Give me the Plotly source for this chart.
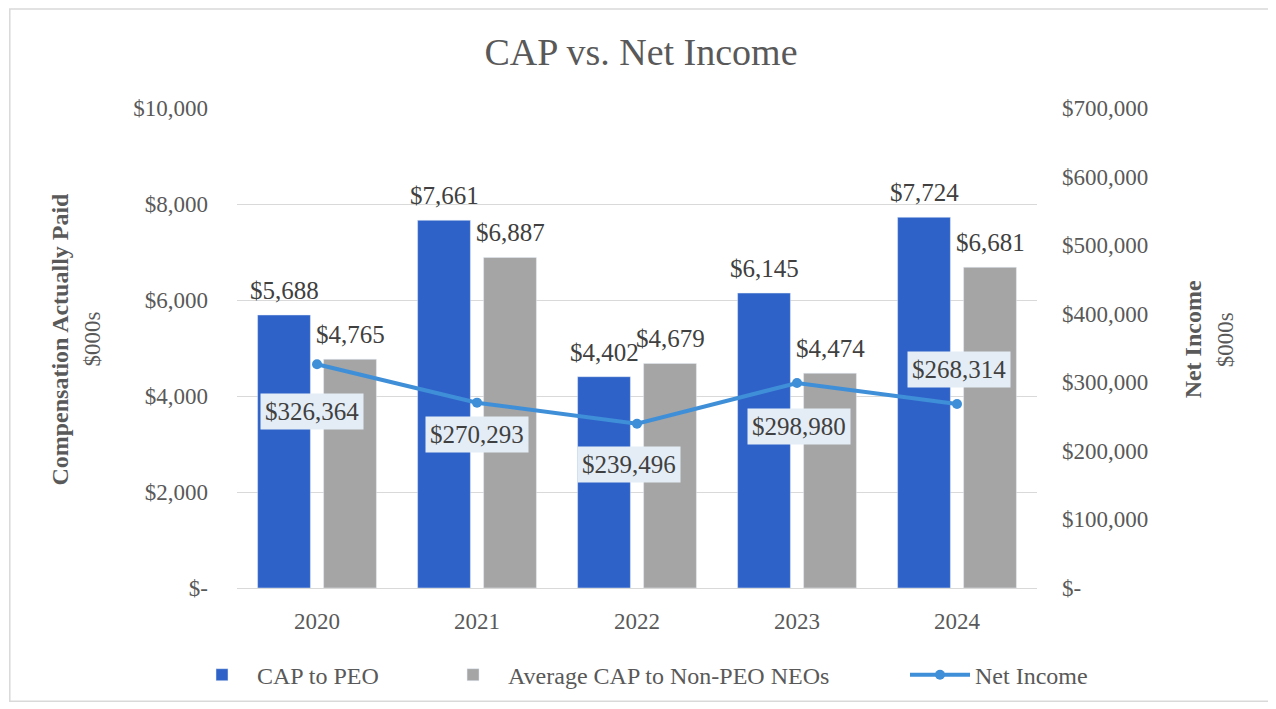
import plotly.graph_objects as go

years = ["2020", "2021", "2022", "2023", "2024"]
cap_peo = [5688, 7661, 4402, 6145, 7724]
cap_neo = [4765, 6887, 4679, 4474, 6681]
net_income = [326364, 270293, 239496, 298980, 268314]

left_tickvals = [0, 2000, 4000, 6000, 8000, 10000]
left_ticktext = ["$-", "$2,000", "$4,000", "$6,000", "$8,000", "$10,000"]
right_tickvals = [0, 100000, 200000, 300000, 400000, 500000, 600000, 700000]
right_ticktext = ["$-", "$100,000", "$200,000", "$300,000", "$400,000",
                  "$500,000", "$600,000", "$700,000"]

# label offsets (pixels) for net income callouts
ni_yshift = [-47, -32, -41, -44, 35]
ni_xshift = [-5, 0, -8, 2, 2]

SERIF = "Liberation Serif, Times New Roman, serif"
BLUE = "#2E62C8"
GRAY = "#A5A5A5"
LINE = "#3F8FD8"
TXT = "#404040"
TICK = "#595959"

W, H = 1268, 701

fig = go.Figure()
fig.add_trace(go.Bar(x=years, y=cap_peo, name="CAP to PEO", marker_color=BLUE,
                     yaxis="y", legend="legend"))
fig.add_trace(go.Bar(x=years, y=cap_neo, name="Average CAP to Non-PEO NEOs",
                     marker_color=GRAY, yaxis="y", legend="legend2"))
fig.add_trace(go.Scatter(x=years, y=net_income, name="Net Income", yaxis="y2",
                         mode="lines+markers", legend="legend3",
                         line=dict(color=LINE, width=4),
                         marker=dict(color=LINE, size=10)))

annotations = []
for i in range(len(years)):
    # category index i on the category axis
    annotations.append(dict(x=i, y=cap_peo[i], xref="x", yref="y",
                            text="${:,}".format(cap_peo[i]), showarrow=False,
                            yanchor="bottom", yshift=9, xshift=-33,
                            font=dict(family=SERIF, size=25, color=TXT)))
    annotations.append(dict(x=i, y=cap_neo[i], xref="x", yref="y",
                            text="${:,}".format(cap_neo[i]), showarrow=False,
                            yanchor="bottom", yshift=9, xshift=33,
                            font=dict(family=SERIF, size=25, color=TXT)))
    annotations.append(dict(x=i, y=net_income[i], xref="x", yref="y2",
                            text="${:,}".format(net_income[i]), showarrow=False,
                            yanchor="middle", yshift=ni_yshift[i], xshift=ni_xshift[i],
                            bgcolor="#E4EDF6", borderpad=4,
                            font=dict(family=SERIF, size=25, color=TXT)))

annotations += [
    dict(x=-0.221, y=0.518, xref="paper", yref="paper", textangle=-90,
         xanchor="center", yanchor="middle",
         text="<b>Compensation Actually Paid</b>", showarrow=False,
         font=dict(family=SERIF, size=24, color=TICK)),
    dict(x=-0.181, y=0.518, xref="paper", yref="paper", textangle=-90,
         xanchor="center", yanchor="middle",
         text="$000s", showarrow=False,
         font=dict(family=SERIF, size=23, color=TICK)),
    dict(x=1.195, y=0.518, xref="paper", yref="paper", textangle=-90,
         xanchor="center", yanchor="middle",
         text="<b>Net Income</b>", showarrow=False,
         font=dict(family=SERIF, size=24, color=TICK)),
    dict(x=1.236, y=0.518, xref="paper", yref="paper", textangle=-90,
         xanchor="center", yanchor="middle",
         text="$000s", showarrow=False,
         font=dict(family=SERIF, size=23, color=TICK)),
]

legend_common = dict(orientation="h", y=-0.179, yanchor="middle", xanchor="left",
                     font=dict(family=SERIF, size=24, color=TICK),
                     itemwidth=60, bgcolor="rgba(0,0,0,0)")

fig.update_layout(
    width=W, height=H,
    margin=dict(l=229, r=239, t=100, b=120),
    paper_bgcolor="white", plot_bgcolor="white",
    title=dict(text="CAP vs. Net Income", x=(641 - 8) / W, xanchor="center",
               y=1 - 44 / H, yanchor="middle",
               font=dict(family=SERIF, size=38, color=TICK)),
    barmode="group", bargap=0.175, bargroupgap=0.2,
    showlegend=True,
    legend=dict(x=-0.0625, **legend_common),
    legend2=dict(x=0.2513, **legend_common),
    legend3=dict(x=0.835, **legend_common),
    xaxis=dict(type="category", range=[-0.5, 4.5], autorange=False,
               showgrid=False, showline=True, linecolor="#D9D9D9",
               ticks="", tickfont=dict(family=SERIF, size=23, color=TICK),
               ticklabelstandoff=12),
    yaxis=dict(range=[0, 10000], autorange=False,
               tickvals=left_tickvals, ticktext=left_ticktext,
               showgrid=True, gridcolor="#D9D9D9", gridwidth=1, zeroline=False,
               ticks="", tickfont=dict(family=SERIF, size=23, color=TICK),
               ticklabelstandoff=28),
    yaxis2=dict(range=[0, 700000], autorange=False,
                tickvals=right_tickvals, ticktext=right_ticktext,
                overlaying="y", side="right", showgrid=False, zeroline=False,
                ticks="", tickfont=dict(family=SERIF, size=23, color=TICK),
                ticklabelstandoff=24),
    annotations=annotations,
    shapes=[dict(type="rect", xref="paper", yref="paper",
                 x0=-0.284, x1=1.294, y0=-0.236, y1=1.206,
                 line=dict(color="#D9D9D9", width=1.5), fillcolor="rgba(0,0,0,0)")],
)

fig.write_html("out.html")
